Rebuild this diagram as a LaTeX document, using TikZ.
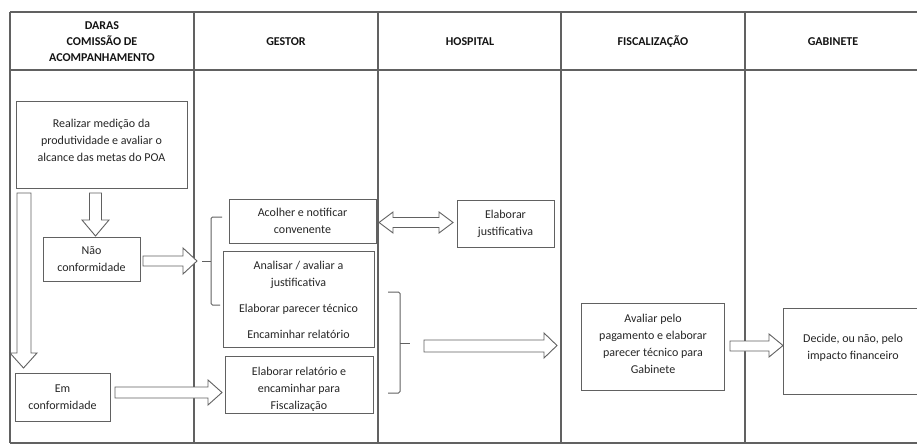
\documentclass[tikz,border=0pt]{standalone}
\usepackage{fontspec}
\setmainfont{Carlito}
\usetikzlibrary{calc}
\definecolor{ln}{gray}{0.38}
\definecolor{tx}{gray}{0.15}
\definecolor{hd}{gray}{0.08}
\begin{document}
\begin{tikzpicture}[x=1pt,y=-1pt,
  tbl/.style={draw=ln,line width=1.1pt},
  box/.style={draw=ln,line width=1pt,fill=white,inner sep=0pt,align=center,text=tx,
    font=\fontsize{12}{17}\selectfont},
  txt/.style={inner sep=0pt,align=center,text=tx,font=\fontsize{12}{17}\selectfont},
  hdr/.style={inner sep=0pt,align=center,text=hd,font=\bfseries\fontsize{12}{16}\selectfont},
  blk/.style={draw=ln,line width=0.9pt,fill=white,line join=miter},
  brk/.style={draw=ln,line width=1pt,rounded corners=1.5pt}]
\clip (0,0) rectangle (917,444);
\fill[white] (0,0) rectangle (917,444);
% table
\draw[tbl] (10,12) -- (930,12);
\draw[tbl] (10,70) -- (930,70);
\draw[tbl] (10,443) -- (930,443);
\foreach \xx in {10,194,378,561,745} \draw[tbl] (\xx,12) -- (\xx,443);
% headers
\node[hdr] (h1) at (102,42) {DARAS\\COMISSÃO DE\\ACOMPANHAMENTO};
\node[hdr] (h2) at (286,42) {GESTOR};
\node[hdr] (h3) at (470,42) {HOSPITAL};
\node[hdr] (h4) at (653,42) {FISCALIZAÇÃO};
\node[hdr] (h5) at (833,42) {GABINETE};
% boxes
\node[box,minimum width=171pt,minimum height=87pt] (real) at (101.5,144.5) {};
\node[txt] (realt) at (101.5,140) {Realizar medição da\\produtividade e avaliar o\\alcance das metas do POA};
\node[box,minimum width=97pt,minimum height=44pt] (nao) at (91.5,259) {Não\\conformidade};
\node[box,minimum width=95pt,minimum height=48pt] (em) at (62.5,397) {Em\\conformidade};
\node[box,minimum width=147pt,minimum height=44pt] (acol) at (302.5,221) {Acolher e notificar\\convenente};
\node[box,minimum width=151pt,minimum height=96pt] (anal) at (298.5,299) {};
\node[txt] (analt) at (298.5,300) {Analisar / avaliar a\\justificativa\\[9pt]Elaborar parecer técnico\\[9pt]Encaminhar relatório};
\node[box,minimum width=148pt,minimum height=57pt] (elab) at (299,384.5) {};
\node[txt] (elabt) at (299,389) {Elaborar relatório e\\encaminhar para\\Fiscalização};
\node[box,minimum width=97pt,minimum height=47pt] (just) at (505.5,223.5) {Elaborar\\justificativa};
\node[box,minimum width=143pt,minimum height=87pt] (aval) at (653,347) {};
\node[txt] (avalt) at (653,343.5) {Avaliar pelo\\pagamento e elaborar\\parecer técnico para\\Gabinete};
\node[box,minimum width=140pt,minimum height=86pt] (dec) at (853,351) {};
\node[txt] (dect) at (853,347.5) {Decide, ou não, pelo\\impacto financeiro};
% block arrows
\draw[blk] (17,193) -- (31,193) -- (31,353) -- (37,353) -- (23.5,368) -- (10,353) -- (17,353) -- cycle;
\draw[blk] (89.5,193) -- (101.5,193) -- (101.5,220) -- (109,220) -- (95.5,236) -- (82,220) -- (89.5,220) -- cycle;
\draw[blk] (143,256) -- (183,256) -- (183,248) -- (197,261) -- (183,274) -- (183,266) -- (143,266) -- cycle;
\draw[blk] (115,387) -- (208,387) -- (208,380) -- (222,392.5) -- (208,405) -- (208,398) -- (115,398) -- cycle;
\draw[blk] (379,222.5) -- (393,212) -- (393,217.5) -- (439,217.5) -- (439,212) -- (453,222.5) -- (439,233) -- (439,227.5) -- (393,227.5) -- (393,233) -- cycle;
\draw[blk] (424,340) -- (544,340) -- (544,333) -- (557,345.5) -- (544,358) -- (544,352) -- (424,352) -- cycle;
\draw[blk] (730,341) -- (769,341) -- (769,334) -- (783,345.5) -- (769,357) -- (769,351) -- (730,351) -- cycle;
% brackets
\draw[brk] (222,217) -- (211,217) -- (211,305) -- (220,305);
\draw[brk] (202,261) -- (211,261);
\draw[brk] (388,292) -- (400,292) -- (400,393) -- (388,393);
\draw[brk] (400,343) -- (410,343);
\end{tikzpicture}
\end{document}
